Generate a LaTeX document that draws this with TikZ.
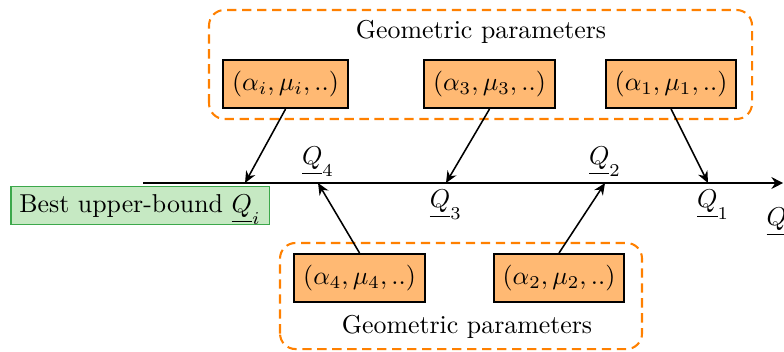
\documentclass[tikz,border=0pt]{standalone}
\usepackage{amsmath,amssymb}
\usepackage{xcolor}
\usepackage{tikz}
\usetikzlibrary{arrows.meta, positioning}

\definecolor{bestfill}{RGB}{198,233,195}
\definecolor{bestdraw}{RGB}{60,168,75}

\begin{document}
\begin{tikzpicture}[
        param/.style={rectangle, draw=black, thick, fill=orange!55, minimum height=18.6pt, inner sep=3.4pt},
        best/.style={rectangle, draw=bestdraw, semithick, fill=bestfill, text height=7pt, text depth=1.2pt},
        group/.style={draw=orange, thick, dash pattern=on 3.6pt off 2.2pt, rounded corners=6pt},
        qlab/.style={inner sep=1.5pt},
        axis/.style={-{Stealth[length=1.6mm, width=1.6mm]}, thick},
        arr/.style={-{Stealth[length=1.6mm, width=1.4mm]}, semithick},
    ]
        \useasboundingbox (-1.946,-2.299) rectangle (8.721,2.490);

        % Dashed groups
        \draw[group] (0.898,0.871) rectangle (8.286,2.354);
        \draw[group] (1.864,-2.259) rectangle (6.789,-0.816);
        \node (gtop) at (4.599,2.054) {Geometric parameters};
        \node (gbot) at (4.408,-1.959) {Geometric parameters};

        % Best bound, under the axis
        \node[best, anchor=base] (best) at (-0.041,-0.408) {Best upper-bound $\underline{Q}_i$};

        % Axis
        \coordinate (start) at (0,0);
        \coordinate (end) at (8.71,0);
        \coordinate (qi) at (1.388,0);
        \coordinate (q4) at (2.381,0);
        \coordinate (q3) at (4.122,0);
        \coordinate (q2) at (6.286,0);
        \coordinate (q1) at (7.687,0);
        \draw[axis] (start) -- (end);

        % Parameter boxes
        \node[param] (ai) at (1.939,1.347) {$(\alpha_i,\mu_i,..)$};
        \node[param] (a3) at (4.714,1.347) {$(\alpha_3,\mu_3,..)$};
        \node[param] (a1) at (7.184,1.347) {$(\alpha_1,\mu_1,..)$};
        \node[param] (a4) at (2.946,-1.293) {$(\alpha_4,\mu_4,..)$};
        \node[param] (a2) at (5.660,-1.293) {$(\alpha_2,\mu_2,..)$};

        % Labels on the axis
        \node[qlab, above=1pt of q4] (lq4) {$\underline{Q}_4$};
        \node[qlab, below=1pt of q3] (lq3) {$\underline{Q}_3$};
        \node[qlab, above=1pt of q2] (lq2) {$\underline{Q}_2$};
        \node[qlab, below=1pt of q1, xshift=2pt] (lq1) {$\underline{Q}_1$};
        \node[inner sep=0pt, anchor=west] (lq0) at (8.476,-0.53) {$\underline{Q}$};

        % Arrows
        \draw[arr] (ai.south) -- (qi);
        \draw[arr] (a3.south) -- (q3);
        \draw[arr] (a1.south) -- (q1);
        \draw[arr] (a4.north) -- (q4);
        \draw[arr] (a2.north) -- (q2);
    \end{tikzpicture}
\end{document}
